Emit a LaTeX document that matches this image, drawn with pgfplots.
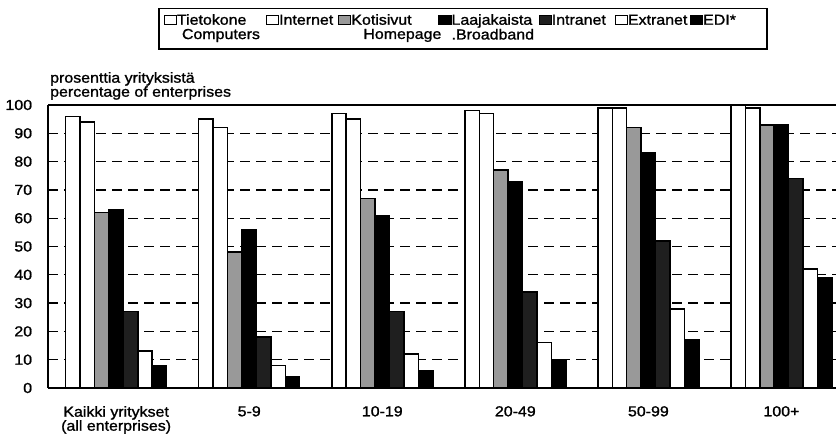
\documentclass[border=0pt]{standalone}
\usepackage{fontspec}
\setmainfont{Liberation Sans}[FakeStretch=1.1, FakeBold=1.2]
\usepackage{pgfplots}
\pgfplotsset{compat=1.18}

\newcommand\cf{\fontsize{14.5bp}{14bp}\selectfont}
% legend text in a fixed-width box, first line on the baseline
\newcommand\legtext[2]{\makebox[#1][l]{\begin{tabular}[t]{@{}l@{}}#2\end{tabular}}}

\begin{document}
\begin{tikzpicture}[font=\cf]
\begin{axis}[
  at={(0,0)}, anchor=south west,
  scale only axis,
  width=787.7bp, height=283bp,
  ybar=0pt, bar width=14.43bp,
  xmin=-0.51, xmax=5.41,
  ymin=0, ymax=100,
  axis lines*=left,
  axis line style={line width=2bp},
  xtick={0,...,5},
  xticklabels={{Kaikki yritykset\\(all enterprises)},5-9,10-19,20-49,50-99,100+},
  x tick label style={align=center, anchor=north, inner sep=0pt, yshift=-18bp, font=\cf},
  ytick={0,10,...,90},
  extra y ticks={100},
  extra y tick style={grid=major, major grid style={solid, line width=2bp, black}},
  ymajorgrids,
  major grid style={black, line width=1.3bp, dash pattern=on 10bp off 6bp},
  major tick length=0pt,
  y tick label style={anchor=east, inner sep=0pt, xshift=-16bp, font=\cf},
  /pgf/number format/assume math mode=true,
  legend columns=7,
  legend image code/.code={\draw[#1, line width=1.2bp] (0bp,0bp) rectangle (12bp,9bp);},
  legend style={at={(0.1393,1.3428)}, anchor=north west, draw=black, line width=1.5bp,
    inner xsep=5bp, inner ysep=5.5bp, column sep=0pt, font=\cf,
    nodes={inner sep=0pt, text depth=}, cells={anchor=base west}},
]
% Tietokone / Computers
\addplot[fill=white, draw=black, line width=1.5bp]
  coordinates {(0,96) (1,95) (2,97) (3,98) (4,99) (5,100)};
\addlegendentry{\legtext{89bp}{Tietokone\\\hspace{5bp}Computers}}
% Internet
\addplot[fill=white, draw=black, line width=1.5bp]
  coordinates {(0,94) (1,92) (2,95) (3,97) (4,99) (5,99)};
\addlegendentry{\legtext{59bp}{Internet}}
% Kotisivut / Homepage
\addplot[fill=black!40, draw=black, line width=1.5bp]
  coordinates {(0,62) (1,48) (2,67) (3,77) (4,92) (5,93)};
\addlegendentry{\legtext{87bp}{Kotisivut\\\hspace{12bp}Homepage}}
% Laajakaista / Broadband
\addplot[fill=black, draw=black, line width=1.5bp]
  coordinates {(0,63) (1,56) (2,61) (3,73) (4,83) (5,93)};
\addlegendentry{\legtext{87bp}{Laajakaista\\.Broadband}}
% Intranet
\addplot[fill=black!88, draw=black, line width=1.5bp]
  coordinates {(0,27) (1,18) (2,27) (3,34) (4,52) (5,74)};
\addlegendentry{\legtext{63bp}{Intranet}}
% Extranet
\addplot[fill=white, draw=black, line width=1.5bp]
  coordinates {(0,13) (1,8) (2,12) (3,16) (4,28) (5,42)};
\addlegendentry{\legtext{62bp}{Extranet}}
% EDI
\addplot[fill=black, draw=black, line width=1.5bp]
  coordinates {(0,8) (1,4) (2,6) (3,10) (4,17) (5,39)};
\addlegendentry{\legtext{59bp}{EDI*}}
\end{axis}
\node[anchor=base west, inner sep=0pt] at (1.7bp,305.3bp) {prosenttia yrityksistä};
\node[anchor=base west, inner sep=0pt] at (1.7bp,291.3bp) {percentage of enterprises};
\pgfresetboundingbox
\path[use as bounding box] (-48.3bp,-46bp) rectangle (787.7bp,388bp);
\end{tikzpicture}
\end{document}
